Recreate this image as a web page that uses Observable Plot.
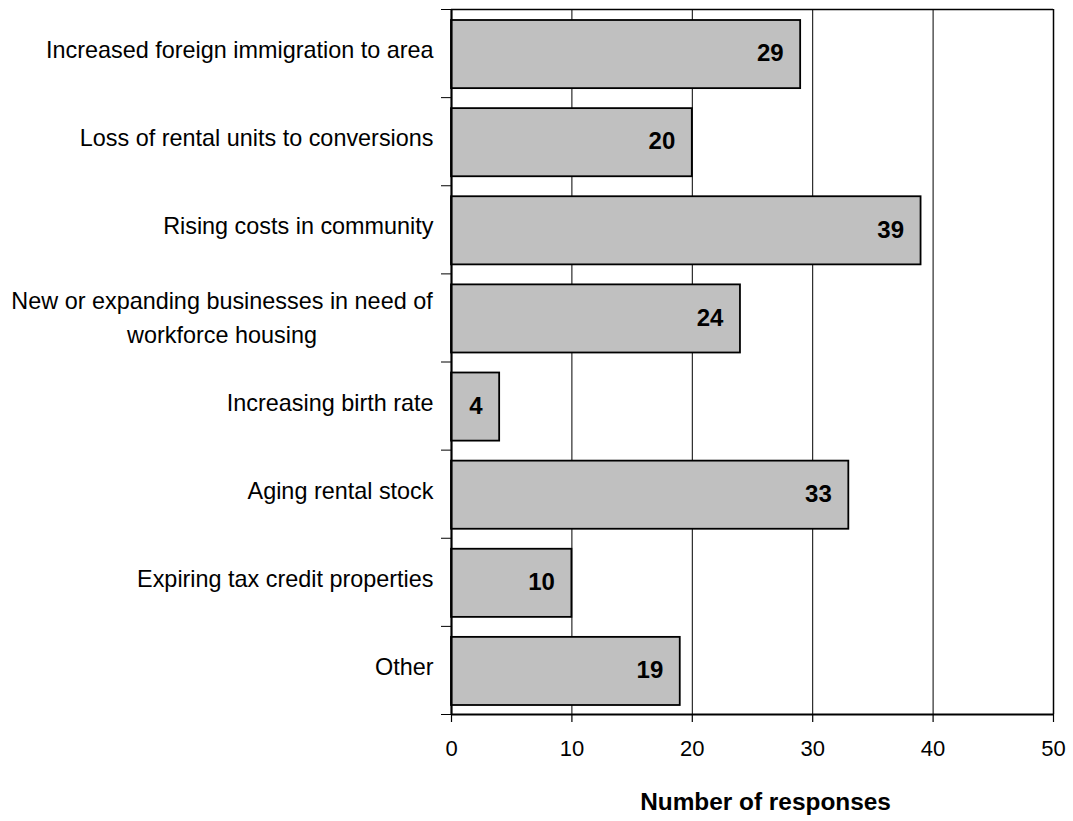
<!DOCTYPE html>
<html><head><meta charset="utf-8">
<script src="https://cdn.jsdelivr.net/npm/d3@7"></script>
<script src="https://cdn.jsdelivr.net/npm/@observablehq/plot@0.6"></script>
<style>
body{margin:0;background:#fff}
svg{font-family:"Liberation Sans",Arial,sans-serif}
</style>
</head><body><div id="chart"></div>
<script>
const categories = [
  "Increased foreign immigration to area",
  "Loss of rental units to conversions",
  "Rising costs in community",
  "New or expanding businesses in need of\nworkforce housing",
  "Increasing birth rate",
  "Aging rental stock",
  "Expiring tax credit properties",
  "Other"
];
const values = [29, 20, 39, 24, 4, 33, 10, 19];
const xTicks = [0, 10, 20, 30, 40, 50];
const gridValues = [10, 20, 30, 40];
const xTitle = "Number of responses";

const data = categories.map((c, i) => ({category: c, value: values[i], i}));
const single = data.filter(d => !d.category.includes("\n"));
const multi = data.filter(d => d.category.includes("\n"));
const bandEdges = d3.range(0, categories.length + 1);

const chart = Plot.plot({
  width: 1073,
  height: 821,
  marginLeft: 451,
  marginRight: 20,
  marginTop: 9,
  marginBottom: 107,
  style: {background: "#fff", color: "#000", fontFamily: "'Liberation Sans', Arial, sans-serif"},
  x: {domain: [0, 50], label: null},
  y: {domain: [0, categories.length], reverse: true, label: null},
  marks: [
    Plot.ruleX(gridValues, {stroke: "#000", strokeWidth: 1}),
    Plot.ruleX([50], {stroke: "#000", strokeWidth: 1.5}),
    Plot.ruleY([0], {stroke: "#000", strokeWidth: 1.5}),
    Plot.rect(data, {
      x1: 0, x2: "value", y1: "i", y2: d => d.i + 1,
      fill: "#c0c0c0", stroke: "#000", strokeWidth: 1.8,
      insetTop: 11, insetBottom: 9
    }),
    Plot.ruleY([categories.length], {stroke: "#000", strokeWidth: 1.8}),
    Plot.ruleX([0], {stroke: "#000", strokeWidth: 2.2}),
    Plot.axisY({ticks: bandEdges, tickFormat: () => "", tickSize: 10, stroke: "#000", strokeWidth: 1, label: null}),
    Plot.axisX({ticks: xTicks, tickSize: 8, tickPadding: 18, fontSize: 22, tickFormat: d => String(d), stroke: "#000", strokeWidth: 1.2, label: null}),
    Plot.text(single, {
      x: 0, y: d => d.i + 0.5, text: "category",
      textAnchor: "end", dx: -18, dy: -3, fontSize: 23.4, fill: "#000"
    }),
    Plot.text(multi, {
      x: 0, y: d => d.i + 0.5, text: "category",
      textAnchor: "middle", dx: -229.5, dy: -3, fontSize: 23.4, lineHeight: 1.45, fill: "#000"
    }),
    Plot.text(data, {
      x: "value", y: d => d.i + 0.5, text: d => String(d.value),
      textAnchor: "end", dx: -17, fontSize: 24, fontWeight: "bold", fill: "#000"
    }),
    Plot.text([xTitle], {
      frameAnchor: "bottom", text: d => d, dx: 13, dy: 95,
      fontSize: 24.4, fontWeight: "bold", fill: "#000"
    })
  ]
});
document.getElementById("chart").appendChild(chart);
</script>
</body></html>
